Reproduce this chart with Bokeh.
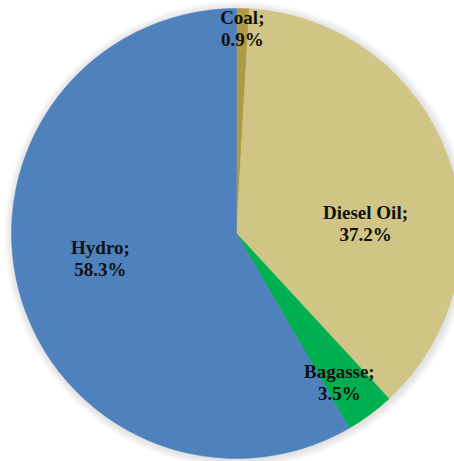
import math
from bokeh.plotting import figure
from bokeh.models import Range1d, ColumnDataSource
from bokeh.core.properties import value
from bokeh.embed import file_html
from bokeh.resources import INLINE

# ---- data ----
categories = ["Coal", "Diesel Oil", "Bagasse", "Hydro"]
shares = [0.9, 37.2, 3.5, 58.3]
colors = ["#B09A45", "#D1C585", "#00B050", "#4F81BD"]

# ---- layout (label placement relative to slice bisector) ----
label_radius_frac = [0.91, 0.575, 0.805, 0.615]
label_angle_shift = [0.0, -15.4, -1.8, -4.5]  # degrees
line_gap = 22

R = 225
total = sum(shares)

starts, ends, lx, ly1, ly2, l1, l2 = [], [], [], [], [], [], []
cum = 0.0
for cat, s, rf, sh in zip(categories, shares, label_radius_frac, label_angle_shift):
    a0 = math.pi / 2 - 2 * math.pi * cum / total
    cum += s
    a1 = math.pi / 2 - 2 * math.pi * cum / total
    starts.append(a0)
    ends.append(a1)
    mid = (a0 + a1) / 2 + math.radians(sh)
    cx = R * rf * math.cos(mid)
    cy = R * rf * math.sin(mid)
    lx.append(cx)
    ly1.append(cy + line_gap / 2)
    ly2.append(cy - line_gap / 2)
    l1.append(cat + ";")
    l2.append(f"{s:.1f}%")

src = ColumnDataSource(dict(start=starts, end=ends, color=colors, cat=categories))
lab = ColumnDataSource(dict(x=lx, y1=ly1, y2=ly2, t1=l1, t2=l2))

W, H = 454, 461
p = figure(width=W, height=H, output_backend="svg", toolbar_location=None,
           x_range=Range1d(-236, 218), y_range=Range1d(-228, 233),
           min_border=0, min_border_left=0, min_border_right=0,
           min_border_top=0, min_border_bottom=0)
p.axis.visible = False
p.grid.visible = False
p.outline_line_color = None
p.background_fill_color = "white"
p.border_fill_color = "white"

# soft shadow
for r in [233, 231, 229, 227]:
    p.circle(x=[1], y=[-1], radius=r, fill_color="#7f7f7f", fill_alpha=0.05,
             line_color=None)

p.wedge(x=0, y=0, radius=R, start_angle="start", end_angle="end",
        direction="clock", fill_color="color", line_color="color",
        line_width=0.5, source=src)

font = value("Liberation Serif")
for col in ("y1", "y2"):
    p.text(x="x", y=col, text="t1" if col == "y1" else "t2", source=lab,
           text_font=font, text_font_style="bold", text_font_size="19px",
           text_align="center", text_baseline="middle", text_color="#111111")

open("out.html", "w").write(file_html(p, INLINE))
